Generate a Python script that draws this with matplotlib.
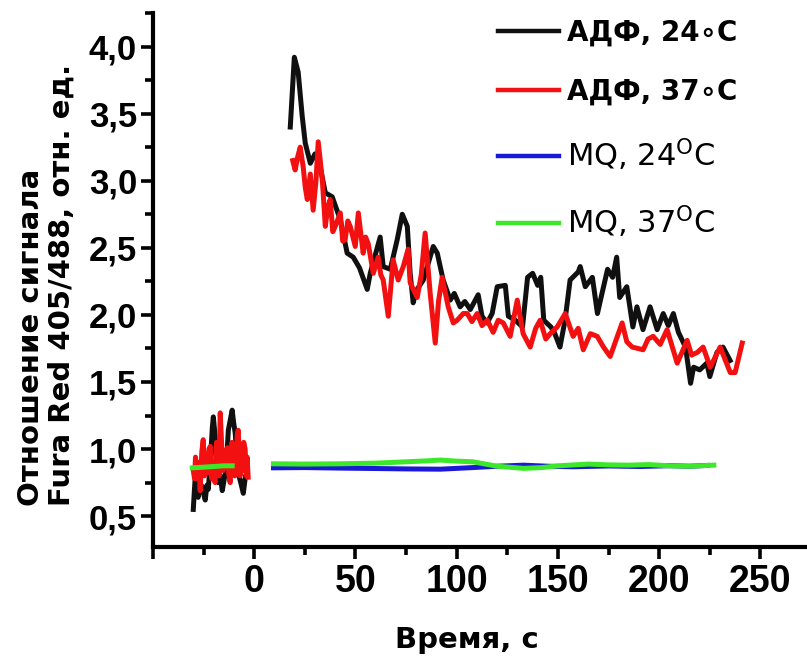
import numpy as np
import matplotlib.pyplot as plt
from matplotlib.ticker import MultipleLocator, FixedLocator, FuncFormatter

# ADP 24 C, first segment (before addition) and after addition
adp24_t1 = [-30.1, -29.6, -29.1, -28.4, -27.7, -26.7, -25.7, -24.9, -24.2, -23.4,
            -22.7, -21.6, -20.7, -20.2, -19.3, -18.5, -17.8, -16.8, -15.8, -14.3,
            -13.5, -12.8, -11.8, -10.9, -10.2, -9.4, -8.6, -7.9, -6.5, -5.4, -4.4]
adp24_v1 = [0.55, 0.68, 0.80, 0.70, 0.64, 0.74, 0.72, 0.66, 0.62, 0.73,
            0.70, 0.92, 1.16, 1.24, 1.09, 0.85, 0.75, 0.80, 0.69, 0.82,
            0.95, 1.14, 1.22, 1.29, 1.20, 1.12, 0.95, 0.82, 0.74, 0.67, 0.79]
adp24_t2 = [17.8, 19.8, 21.7, 23.7, 25.2, 27.7, 30.0, 32.6, 35.1, 38.5,
            42.5, 45.9, 48.9, 52.0, 55.8, 57.3, 62.2, 63.7, 67.2, 70.6,
            73.1, 75.6, 77.0, 78.5, 80.0, 83.5, 88.4, 90.4, 93.3, 96.8,
            98.8, 101.7, 104.0, 106.7, 110.6, 112.5, 115.0, 117.5, 120.0, 124.0,
            125.5, 129.0, 132.5, 135.0, 137.5, 140.0, 141.5, 143.0, 146.5, 148.2,
            151.0, 153.5, 156.0, 160.0, 161.0, 163.5, 167.0, 169.5, 171.0, 174.5,
            177.0, 179.0, 180.5, 184.0, 187.0, 189.0, 192.0, 195.5, 199.0, 202.0,
            204.5, 207.0, 209.5, 213.0, 215.5, 217.0, 220.0, 223.5, 225.0, 228.5,
            231.5, 235.0]
adp24_v2 = [3.40, 3.92, 3.81, 3.48, 3.28, 3.13, 3.20, 3.10, 2.91, 2.88,
            2.71, 2.46, 2.43, 2.35, 2.19, 2.31, 2.58, 2.36, 2.34, 2.56,
            2.75, 2.66, 2.31, 2.09, 2.18, 2.26, 2.51, 2.46, 2.26, 2.11,
            2.16, 2.06, 2.10, 2.04, 2.15, 1.99, 1.94, 2.01, 2.21, 2.22,
            1.99, 1.96, 1.91, 2.28, 2.31, 2.22, 2.28, 1.96, 1.91, 1.87,
            1.76, 1.96, 2.26, 2.32, 2.36, 2.21, 2.28, 2.01, 2.11, 2.34,
            2.28, 2.43, 2.13, 2.21, 1.91, 2.06, 1.89, 2.06, 1.89, 2.01,
            1.92, 2.01, 1.87, 1.76, 1.49, 1.61, 1.59, 1.64, 1.54, 1.72,
            1.76, 1.66]

# ADP 37 C
adp37_t1 = [-30.1, -29.5, -29.0, -28.1, -27.4, -26.7, -25.9, -25.2, -24.6, -24.2,
            -23.2, -22.4, -21.7, -21.0, -20.5, -19.3, -18.6, -18.0, -17.4, -16.8,
            -16.0, -15.3, -14.3, -13.3, -12.6, -11.9, -11.0, -10.4, -9.6, -9.0,
            -8.4, -7.9, -7.0, -6.4, -5.9, -5.2, -4.5, -3.9, -3.5, -3.0]
adp37_v1 = [0.84, 0.78, 0.94, 0.78, 0.90, 0.69, 0.98, 1.07, 0.80, 0.86,
            0.82, 1.00, 1.02, 0.78, 0.80, 0.75, 1.05, 0.95, 0.80, 1.27,
            1.00, 0.84, 0.97, 1.01, 0.82, 0.75, 1.05, 0.98, 0.80, 0.86,
            1.10, 1.14, 0.80, 0.95, 0.84, 1.05, 1.00, 0.80, 0.94, 0.79]
adp37_t2 = [19.0, 20.2, 21.5, 22.7, 24.2, 25.2, 26.2, 27.7, 29.1, 30.5,
            31.6, 33.6, 35.1, 36.3, 37.5, 38.8, 40.0, 42.5, 43.7, 44.9,
            46.2, 47.4, 49.9, 51.4, 53.8, 55.0, 56.3, 58.8, 61.2, 62.5,
            63.7, 66.2, 68.6, 71.1, 73.6, 76.0, 77.0, 80.5, 82.5, 84.4,
            86.9, 89.4, 91.0, 92.8, 95.8, 98.3, 100.2, 103.2, 105.2, 107.5,
            110.1, 112.5, 115.1, 118.0, 120.5, 123.0, 126.4, 129.9, 132.8, 136.3,
            139.0, 141.2, 144.0, 146.2, 149.6, 153.6, 157.5, 160.0, 162.5, 166.0,
            169.4, 172.5, 175.8, 181.7, 184.0, 186.7, 192.1, 194.5, 197.0, 200.5,
            203.9, 208.9, 213.8, 216.0, 218.8, 221.7, 225.2, 230.1, 235.1, 237.5,
            241.0]
adp37_v2 = [3.15, 3.08, 3.18, 3.25, 3.10, 2.95, 2.86, 3.05, 2.78, 3.00,
            3.29, 3.01, 2.66, 2.80, 2.86, 2.62, 2.66, 2.76, 2.55, 2.56,
            2.70, 2.66, 2.51, 2.76, 2.46, 2.58, 2.53, 2.31, 2.43, 2.30,
            2.26, 1.99, 2.41, 2.26, 2.36, 2.49, 2.24, 2.13, 2.30, 2.61,
            2.16, 1.79, 2.10, 2.28, 2.06, 1.94, 1.96, 2.01, 2.01, 1.95,
            2.01, 1.92, 1.96, 1.87, 1.96, 1.94, 1.84, 2.11, 1.86, 1.76,
            1.90, 1.96, 1.82, 1.86, 1.91, 2.01, 1.84, 1.90, 1.74, 1.86,
            1.84, 1.76, 1.69, 1.94, 1.80, 1.76, 1.74, 1.82, 1.84, 1.78,
            1.89, 1.64, 1.81, 1.70, 1.72, 1.76, 1.61, 1.76, 1.57, 1.57,
            1.79]

# MQ 24 C
mq24_t = [9.5, 25.0, 42.5, 60.0, 75.0, 91.9, 108.0, 120.0, 133.0, 145.0,
          157.6, 175.0, 190.6, 205.0, 215.0, 223.7]
mq24_v = [0.86, 0.862, 0.858, 0.855, 0.852, 0.85, 0.862, 0.872, 0.880, 0.872,
          0.868, 0.874, 0.870, 0.876, 0.872, 0.878]

# MQ 37 C
mq37_t1 = [-30.6, -25.0, -20.0, -15.0, -10.9]
mq37_v1 = [0.86, 0.865, 0.87, 0.875, 0.875]
mq37_t2 = [9.5, 25.0, 42.0, 60.0, 75.0, 85.0, 92.0, 100.0, 108.0, 120.0,
           133.0, 142.0, 150.0, 165.0, 175.0, 185.0, 195.0, 205.0, 215.0, 227.0]
mq37_v2 = [0.89, 0.888, 0.89, 0.895, 0.905, 0.912, 0.918, 0.91, 0.905, 0.872,
           0.856, 0.862, 0.875, 0.888, 0.882, 0.880, 0.884, 0.875, 0.872, 0.880]

BLACK = '#101010'
RED = '#f21010'
BLUE = '#1a1ad6'
GREEN = '#3de82a'

fig = plt.figure(figsize=(8.07, 6.59), dpi=100)
ax = fig.add_axes([153 / 807, 112 / 659, 654 / 807, 534 / 659])

lw = 3.6
ax.plot(adp24_t1, adp24_v1, color=BLACK, lw=lw)
ax.plot(adp24_t2, adp24_v2, color=BLACK, lw=lw, label='АДФ, 24\u2218C')
ax.plot(adp37_t1, adp37_v1, color=RED, lw=lw)
ax.plot(adp37_t2, adp37_v2, color=RED, lw=lw, label='АДФ, 37\u2218C')
ax.plot(mq24_t, mq24_v, color=BLUE, lw=lw, label=r'MQ, 24$^{\mathregular{O}}$C')
ax.plot(mq37_t1, mq37_v1, color=GREEN, lw=lw)
ax.plot(mq37_t2, mq37_v2, color=GREEN, lw=lw, label=r'MQ, 37$^{\mathregular{O}}$C')

ax.set_xlim(-50, 273)
ax.set_ylim(0.27, 4.25)

for side in ('top', 'right'):
    ax.spines[side].set_visible(False)
for side in ('left', 'bottom'):
    ax.spines[side].set_linewidth(3)

ax.xaxis.set_major_locator(FixedLocator(np.arange(-50, 251, 50)))
ax.xaxis.set_minor_locator(FixedLocator(np.arange(-25, 251, 50)))
ax.xaxis.set_major_formatter(FuncFormatter(lambda x, p: '' if x < 0 else f'{x:.0f}'))
ax.yaxis.set_major_locator(MultipleLocator(0.5))
ax.yaxis.set_minor_locator(MultipleLocator(0.25))
ax.yaxis.set_major_formatter(FuncFormatter(lambda y, p: f'{y:.1f}'.replace('.', ',')))

ax.tick_params(which='major', length=8.5, width=2.6, direction='out')
ax.tick_params(which='minor', length=5.5, width=2.6, direction='out')
ax.tick_params(axis='y', pad=3)
ax.tick_params(axis='x', pad=4)

for lab in ax.get_yticklabels():
    lab.set_fontfamily(['Liberation Sans', 'DejaVu Sans'])
    lab.set_fontweight('bold')
    lab.set_fontsize(25)
for lab in ax.get_xticklabels():
    lab.set_fontfamily(['Liberation Sans', 'DejaVu Sans'])
    lab.set_fontweight('bold')
    lab.set_fontsize(27)

ax.set_xlabel('Время, с', fontsize=21, fontweight='bold', va='center')
ax.xaxis.set_label_coords((467 - 153) / 654, (547 - 640) / 534)
ax.set_ylabel('Отношение сигнала\nFura Red 405/488, отн. ед.', fontsize=21,
              fontweight='bold', va='center', ha='center', linespacing=1.1,
              multialignment='left')
ax.yaxis.set_label_coords((46 - 153) / 654, (547 - 285) / 534)

leg = ax.legend(loc='upper left', bbox_to_anchor=(498 / 807, 1 - 19 / 659),
                bbox_transform=fig.transFigure, frameon=False, fontsize=20,
                handlelength=2.2, handletextpad=0.3, labelspacing=1.1,
                borderpad=0, borderaxespad=0)
for i, txt in enumerate(leg.get_texts()):
    if i < 2:
        txt.set_fontweight('bold')
    else:
        txt.set_fontweight('medium')
        txt.set_fontsize(22)
for line in leg.get_lines():
    line.set_linewidth(3.2)

fig.savefig('out.png', dpi=100)
